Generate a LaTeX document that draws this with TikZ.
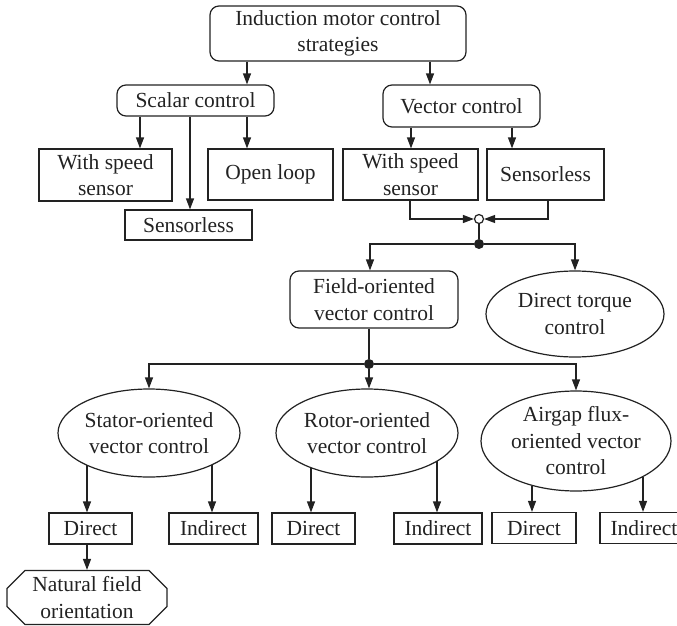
\documentclass[tikz,border=0pt]{standalone}
\usepackage{fontspec}
\setmainfont{Liberation Serif}
\usetikzlibrary{arrows.meta,shapes.geometric,shapes.misc}
\definecolor{ink}{HTML}{222222}
\begin{document}
\begin{tikzpicture}[x=1pt,y=-1pt,
  every node/.style={font=\fontsize{21.5}{26.5}\selectfont, text=ink, align=center, inner sep=0pt},
  box/.style={draw=ink, line width=1.2pt, rectangle},
  rbox/.style={box, rounded corners=9pt},
  ell/.style={draw=ink, line width=1.2pt, ellipse, inner sep=-3pt},
  nfobox/.style={draw=ink, line width=1.2pt, chamfered rectangle, chamfered rectangle xsep=9pt, chamfered rectangle ysep=9pt, inner ysep=-6pt},
  opendot/.style={circle, draw=ink, fill=white, line width=1.2pt, minimum size=9pt},
  fulldot/.style={circle, fill=ink, minimum size=10pt},
  conn/.style={draw=ink, line width=1.2pt},
  arr/.style={conn, -{Triangle[length=11pt,width=8pt]}}
]
\useasboundingbox (0,0) rectangle (677,626);
\clip (0,0) rectangle (677,626);

% helper x positions
\foreach \xx in {87,140,190,212,247,311,370,410,411,430,437,512,532,548,643}
  \coordinate (x\xx) at (\xx,0);

% nodes
\node[rbox, minimum width=256pt, minimum height=55pt] (top) at (338,33.5) {Induction motor control\\strategies};
\node[rbox, minimum width=157pt, minimum height=31pt] (scalar) at (195.5,100.5) {Scalar control};
\node[rbox, minimum width=157pt, minimum height=42pt] (vector) at (461.5,106) {Vector control};
\node[box, minimum width=133pt, minimum height=52pt] (sws) at (105.5,175) {With speed\\sensor};
\node[box, minimum width=125pt, minimum height=51pt] (sol) at (270.5,174.5) {Open loop};
\node[box, minimum width=127pt, minimum height=30pt] (ssl) at (188.5,225) {Sensorless};
\node[box, minimum width=135pt, minimum height=51pt] (vws) at (410.5,174.5) {With speed\\sensor};
\node[box, minimum width=117pt, minimum height=51pt] (vsl) at (545.5,174.5) {Sensorless};
\node[opendot] (circ) at (479,219) {};
\node[fulldot] (dot1) at (479,244) {};
\node[rbox, minimum width=168pt, minimum height=57pt] (fo) at (374,299.5) {Field-oriented\\vector control};
\node[ell, minimum width=178pt, minimum height=86pt] (dtc) at (575,314) {Direct torque\\control};
\node[fulldot] (dot2) at (369,364) {};
\node[ell, minimum width=182pt, minimum height=88pt] (stator) at (149,433) {Stator-oriented\\vector control};
\node[ell, minimum width=182pt, minimum height=88pt] (rotor) at (367,433) {Rotor-oriented\\vector control};
\node[ell, minimum width=190pt, minimum height=100pt] (airgap) at (576,441) {Airgap flux-\\oriented vector\\control};
\node[box, minimum width=83pt, minimum height=31pt] (sd) at (90.5,528.5) {Direct};
\node[box, minimum width=89pt, minimum height=31pt] (si) at (213.5,528.5) {Indirect};
\node[box, minimum width=83pt, minimum height=31pt] (rd) at (313.5,528.5) {Direct};
\node[box, minimum width=88pt, minimum height=31pt] (ri) at (438,528.5) {Indirect};
\node[box, minimum width=84pt, minimum height=31pt] (ad) at (534,528) {Direct};
\node[box, minimum width=88pt, minimum height=31pt] (ai) at (644,528) {Indirect};
\node[nfobox, minimum width=160pt, minimum height=54pt] (nfo) at (87,597.5) {Natural field\\orientation};

% connectors
\draw[arr] (top.south -| x247) -- (scalar.north -| x247);
\draw[arr] (top.south -| x430) -- (vector.north -| x430);
\draw[arr] (scalar.south -| x140) -- (sws.north -| x140);
\draw[arr] (scalar.south -| x190) -- (ssl.north -| x190);
\draw[arr] (scalar.south -| x247) -- (sol.north -| x247);
\draw[arr] (vector.south -| x411) -- (vws.north -| x411);
\draw[arr] (vector.south -| x512) -- (vsl.north -| x512);
\draw[arr] (vws.south -| x410) |- (circ.west);
\draw[arr] (vsl.south -| x548) |- (circ.east);
\draw[conn] (circ.south) -- (dot1);
\draw[arr] (dot1) -| (fo.north -| x370);
\draw[arr] (dot1) -| (dtc.north);
\draw[conn] (fo.south -| dot2) -- (dot2);
\draw[arr] (dot2) -| (stator.north);
\draw[arr] (dot2) -- (dot2 |- rotor.north);
\draw[arr] (dot2) -| (airgap.north);
\draw[arr] (x87 |- stator.207) -- (x87 |- sd.north);
\draw[arr] (x212 |- stator.333) -- (x212 |- si.north);
\draw[arr] (x311 |- rotor.212) -- (x311 |- rd.north);
\draw[arr] (x437 |- rotor.338) -- (x437 |- ri.north);
\draw[arr] (x532 |- airgap.225) -- (x532 |- ad.north);
\draw[arr] (x643 |- airgap.332) -- (x643 |- ai.north);
\draw[arr] (sd.south -| x87) -- (nfo.north -| x87);
\end{tikzpicture}
\end{document}
